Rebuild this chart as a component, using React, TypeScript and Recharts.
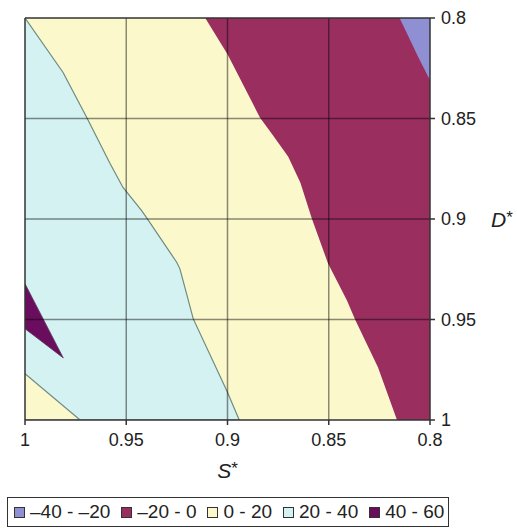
import React from "react";
import {
  Area,
  ComposedChart,
  Label,
  Legend,
  ReferenceLine,
  XAxis,
  YAxis,
} from "recharts";

// axis ticks
const sTicks = [1, 0.95, 0.9, 0.85, 0.8];
const dTicks = [0.8, 0.85, 0.9, 0.95, 1];

// contour edges (S, D*)
const lavenderEdge = [
  { s: 0.815, d: 0.8 },
  { s: 0.806, d: 0.819 },
  { s: 0.8, d: 0.831 },
];
const maroonEdge = [
  { s: 0.911, d: 0.8 },
  { s: 0.9, d: 0.818 },
  { s: 0.884, d: 0.8495 },
  { s: 0.8775, d: 0.8585 },
  { s: 0.87, d: 0.869 },
  { s: 0.864, d: 0.882 },
  { s: 0.8584, d: 0.8996 },
  { s: 0.8504, d: 0.922 },
  { s: 0.841, d: 0.9405 },
  { s: 0.837, d: 0.95 },
  { s: 0.8257, d: 0.9737 },
  { s: 0.8163, d: 1 },
];
const cyanEdge = [
  { s: 1, d: 0.8 },
  { s: 0.9812, d: 0.8271 },
  { s: 0.9695, d: 0.8495 },
  { s: 0.958, d: 0.8724 },
  { s: 0.9516, d: 0.8843 },
  { s: 0.9424, d: 0.8958 },
  { s: 0.9399, d: 0.8994 },
  { s: 0.9251, d: 0.9215 },
  { s: 0.9235, d: 0.9248 },
  { s: 0.9169, d: 0.9497 },
  { s: 0.9004, d: 0.9853 },
  { s: 0.8942, d: 1 },
];
const peakTop = [
  { s: 1, d: 0.9322 },
  { s: 0.9811, d: 0.9691 },
];
const peakBottom = [
  { s: 1, d: 0.9546 },
  { s: 0.9811, d: 0.9691 },
];
const cornerEdge = [
  { s: 1, d: 0.977 },
  { s: 0.9728, d: 1 },
];

// legend bands
const bandLabels = ["–40 - –20", "–20 - 0", "0 - 20", "20 - 40", "40 - 60"];
const bandColors = ["#8f8fd4", "#9a2f5f", "#fbf8cc", "#d5f2f2", "#6a0d5e"];

const dMin = dTicks[0];
const dMax = dTicks[dTicks.length - 1];

const maroonFill = [
  { s: sTicks[0], range: [dMin, dMax] },
  { s: sTicks[sTicks.length - 1], range: [dMin, dMax] },
];
const yellowFill = [
  { s: sTicks[0], range: [dMin, dMax] },
  ...maroonEdge.map((p) => ({ s: p.s, range: [p.d, dMax] })),
];
const cyanFill = cyanEdge.map((p) => ({ s: p.s, range: [p.d, dMax] }));
const lavenderFill = lavenderEdge.map((p) => ({ s: p.s, range: [dMin, p.d] }));
const peakFill = peakTop.map((p, i) => ({ s: p.s, range: [p.d, peakBottom[i].d] }));
const cornerFill = cornerEdge.map((p) => ({ s: p.s, range: [p.d, dMax] }));

const font = '"Liberation Sans", Arial, sans-serif';
const ink = "#222";
const frame = "#333";
const contourLine = "#6f8a80";

function BandLegend() {
  return (
    <div
      style={{
        boxSizing: "border-box",
        width: "100%",
        height: 30,
        border: `1.5px solid ${frame}`,
        background: "#fff",
        display: "flex",
        alignItems: "center",
        paddingLeft: 6,
        gap: 11,
        fontFamily: font,
        fontSize: 19,
        color: ink,
      }}
    >
      {bandLabels.map((label, i) => (
        <span key={label} style={{ display: "flex", alignItems: "center", gap: 5 }}>
          <span
            style={{
              boxSizing: "border-box",
              width: 11,
              height: 11,
              border: `1.5px solid ${frame}`,
              background: bandColors[i],
            }}
          />
          <span style={{ whiteSpace: "nowrap" }}>{label}</span>
        </span>
      ))}
    </div>
  );
}

function AxisName({ x, y, name, anchor }: { x: number; y: number; name: string; anchor: string }) {
  return (
    <text x={x} y={y} textAnchor={anchor} fill={ink} fontSize={21} fontFamily={font}>
      <tspan fontStyle="italic">{name}</tspan>
      <tspan dy={-4} fontSize={17}>*</tspan>
    </text>
  );
}

export default function App() {
  const gridS = sTicks.slice(1, -1);
  const gridD = dTicks.slice(1, -1);

  return (
    <div style={{ position: "absolute", left: 0, top: 0, fontFamily: font }}>
      <ComposedChart
        width={517}
        height={528}
        margin={{ top: 18, right: 27, bottom: 48, left: 25 }}
      >
        <XAxis
          type="number"
          dataKey="s"
          domain={[0.8, 1]}
          reversed
          allowDataOverflow
          ticks={sTicks}
          height={60}
          tickSize={5}
          tickMargin={8}
          tick={{ fill: ink, fontSize: 18, fontFamily: font }}
          axisLine={{ stroke: frame, strokeWidth: 1.5 }}
          tickLine={{ stroke: frame, strokeWidth: 1.5 }}
        >
          <Label
            content={({ viewBox }: any) => (
              <AxisName x={viewBox.x + viewBox.width / 2} y={viewBox.y + 58} name="S" anchor="middle" />
            )}
          />
        </XAxis>
        <YAxis
          type="number"
          orientation="right"
          domain={[0.8, 1]}
          reversed
          allowDataOverflow
          ticks={dTicks}
          width={60}
          tickSize={5}
          tickMargin={6}
          tick={{ fill: ink, fontSize: 18, fontFamily: font }}
          axisLine={{ stroke: frame, strokeWidth: 1.5 }}
          tickLine={{ stroke: frame, strokeWidth: 1.5 }}
        >
          <Label
            content={({ viewBox }: any) => (
              <AxisName x={viewBox.x + 61} y={viewBox.y + viewBox.height / 2 + 8} name="D" anchor="start" />
            )}
          />
        </YAxis>

        <Area data={maroonFill} dataKey="range" type="linear" fill={bandColors[1]} fillOpacity={1} stroke="none" isAnimationActive={false} />
        <Area data={yellowFill} dataKey="range" type="linear" fill={bandColors[2]} fillOpacity={1} stroke="none" isAnimationActive={false} />
        <Area data={cyanFill} dataKey="range" type="linear" fill={bandColors[3]} fillOpacity={1} stroke={contourLine} strokeWidth={1.2} isAnimationActive={false} />
        <Area data={lavenderFill} dataKey="range" type="linear" fill={bandColors[0]} fillOpacity={1} stroke="none" isAnimationActive={false} />
        <Area data={peakFill} dataKey="range" type="linear" fill={bandColors[4]} fillOpacity={1} stroke="#5b3a5a" strokeWidth={0.8} isAnimationActive={false} />
        <Area data={cornerFill} dataKey="range" type="linear" fill={bandColors[2]} fillOpacity={1} stroke={contourLine} strokeWidth={1.2} isAnimationActive={false} />

        {gridS.map((s) => (
          <ReferenceLine key={`s${s}`} x={s} stroke="#000" strokeOpacity={0.45} strokeWidth={1.5} />
        ))}
        {gridD.map((d) => (
          <ReferenceLine key={`d${d}`} y={d} stroke="#000" strokeOpacity={0.45} strokeWidth={1.5} />
        ))}
        <ReferenceLine x={sTicks[0]} stroke={frame} strokeWidth={1.5} />
        <ReferenceLine y={dMin} stroke={frame} strokeWidth={1.5} />

        <Legend
          layout="horizontal"
          verticalAlign="middle"
          align="center"
          wrapperStyle={{ left: 7, top: 497, width: 442, height: 30 }}
          content={() => <BandLegend />}
        />
      </ComposedChart>
    </div>
  );
}
